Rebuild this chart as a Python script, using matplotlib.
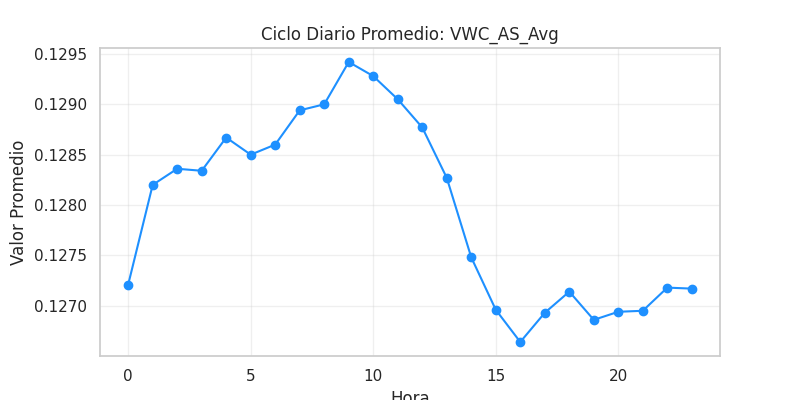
import matplotlib
matplotlib.use("Agg")
import matplotlib.pyplot as plt
import seaborn as sns

sns.set_theme(style="whitegrid")

horas = list(range(24))
vwc_prom = [0.12721, 0.12820, 0.12836, 0.12834, 0.12867, 0.12850, 0.12860, 0.12894,
            0.12900, 0.12942, 0.12928, 0.12905, 0.12877, 0.12827, 0.12748, 0.12696,
            0.12664, 0.12693, 0.12714, 0.12686, 0.12694, 0.12695, 0.12718, 0.12717]

fig, ax = plt.subplots(figsize=(8, 4), dpi=100)
ax.plot(horas, vwc_prom, marker="o", color="#1E90FF")
ax.set_title("Ciclo Diario Promedio: VWC_AS_Avg")
ax.set_xlabel("Hora")
ax.set_ylabel("Valor Promedio")
ax.grid(True, alpha=0.3)
ax.ticklabel_format(axis="y", useOffset=False)

fig.savefig("out.png", dpi=100)
